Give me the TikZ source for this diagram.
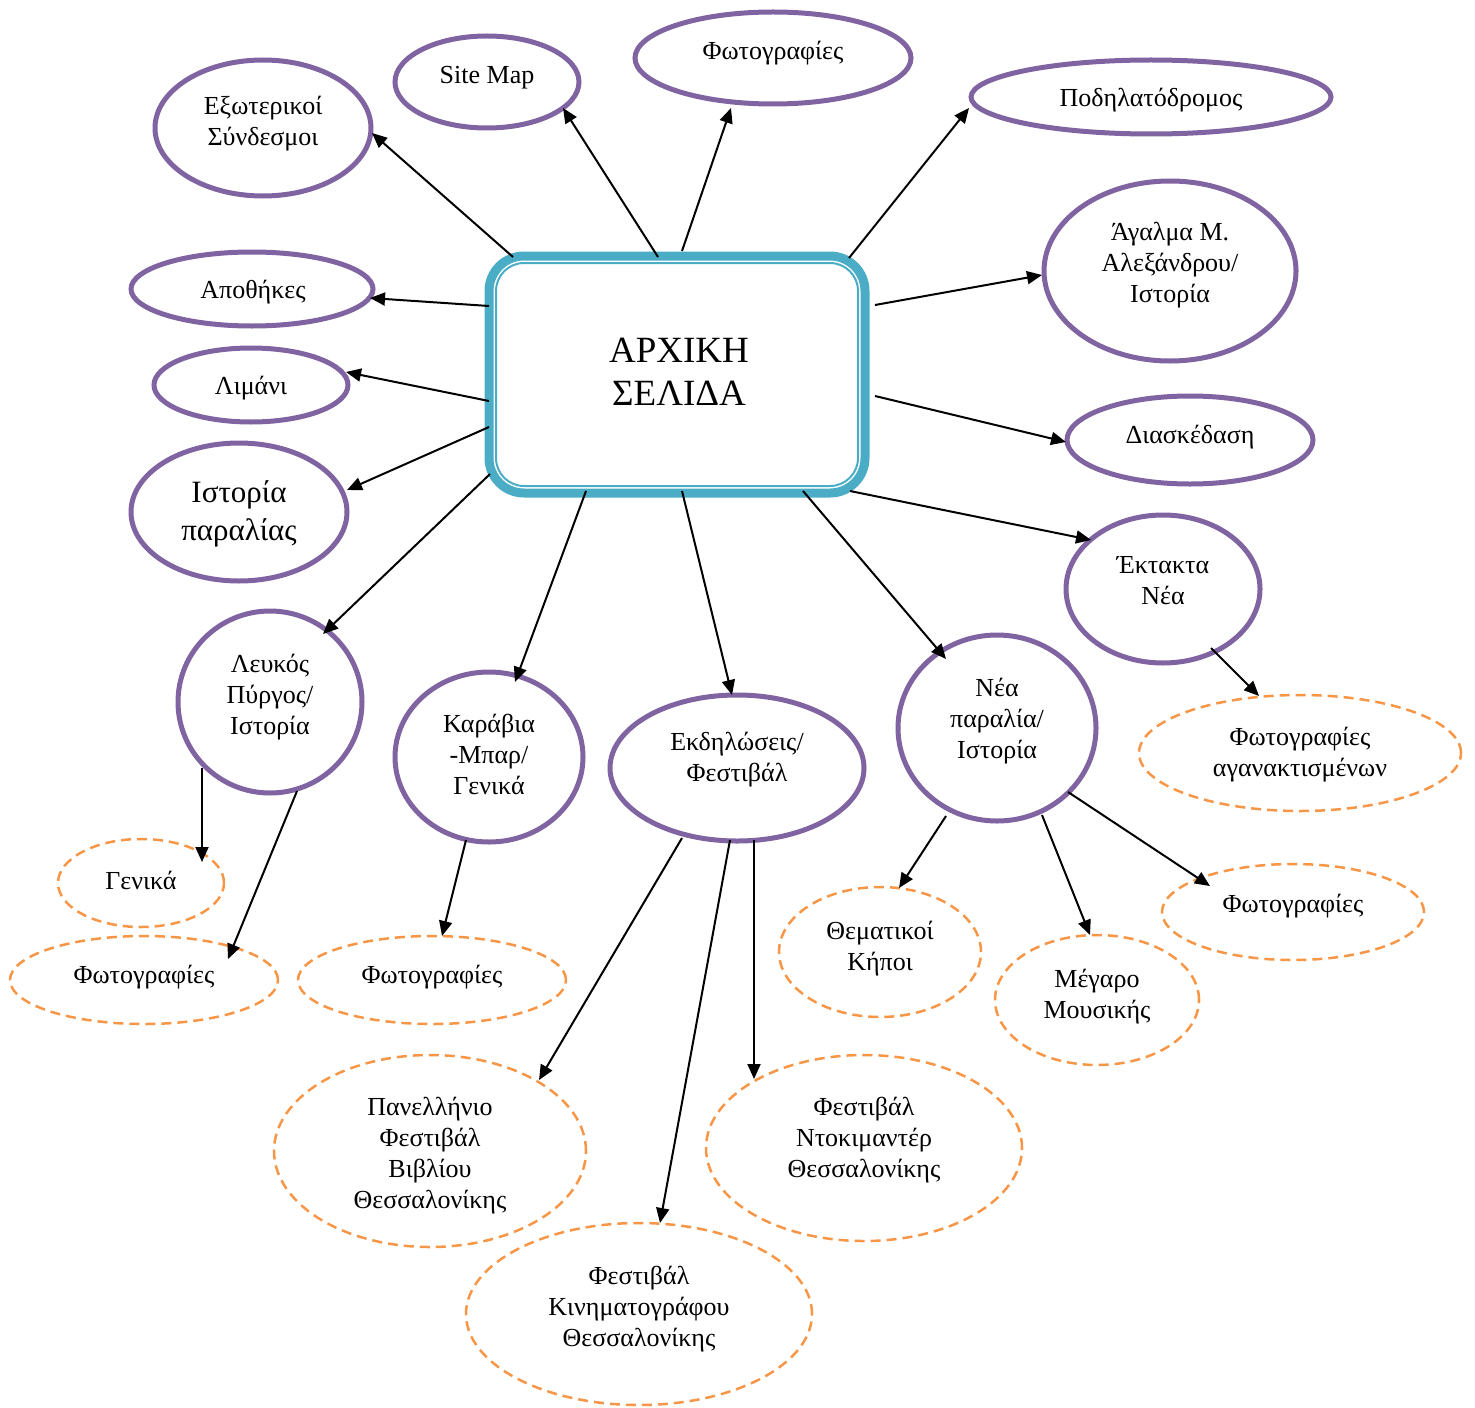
\documentclass[tikz,border=0pt]{standalone}
\usepackage{fontspec}
\setmainfont{Liberation Serif}
\usetikzlibrary{shapes.geometric,calc,arrows.meta}
\definecolor{purp}{HTML}{8064A2}
\definecolor{tealb}{HTML}{4BACC6}
\definecolor{orng}{HTML}{F79646}
\begin{document}
\begin{tikzpicture}[x=0.5pt,y=-0.5pt,
 mainell/.style 2 args={ellipse,draw=purp,line width=2.5pt,inner sep=0pt,outer sep=0pt,minimum width=#1pt,minimum height=#2pt},
 subell/.style 2 args={ellipse,draw=orng,line width=1.25pt,dash pattern=on 5pt off 3pt,inner sep=0pt,outer sep=0pt,minimum width=#1pt,minimum height=#2pt},
 txt/.style={align=center,font=\fontsize{13}{15.5}\selectfont,inner sep=0pt,yshift=-1.4pt},
 arr/.style={-{Triangle[length=7.5pt,width=6.5pt]},line width=1pt,black}]
\useasboundingbox (0,0) rectangle (1475,1407);
% central box
\node[draw=tealb,line width=4.5pt,rounded corners=17.5pt,minimum width=188pt,minimum height=118.5pt,inner sep=0pt,outer sep=0pt] (box) at (677,374.5) {};
\node[draw=tealb,line width=1pt,rounded corners=14pt,minimum width=181pt,minimum height=111.5pt,inner sep=0pt,outer sep=0pt] (boxin) at (677,374.5) {};
\node[align=center,inner sep=0pt,font=\fontsize{18.5}{21.5}\selectfont,yshift=-1pt] (title) at (679,370) {ΑΡΧΙΚΗ\\ΣΕΛΙΔΑ};
% main ellipses
\node[mainell={108}{68}] (ext) at (263,128) {};
\node[txt] (extt) at (263,121) {Εξωτερικοί\\Σύνδεσμοι};
\node[mainell={92}{46}] (site) at (487,82) {};
\node[txt] (sitet) at (487,75) {Site Map};
\node[mainell={138}{46}] (pha) at (773,58) {};
\node[txt] (phat) at (773,50) {Φωτογραφίες};
\node[mainell={180}{37}] (bike) at (1151,97) {};
\node[txt] (biket) at (1151,97) {Ποδηλατόδρομος};
\node[mainell={126}{90}] (stat) at (1170,271) {};
\node[txt] (statt) at (1170,262) {Άγαλμα Μ.\\Αλεξάνδρου/\\Ιστορία};
\node[mainell={121}{37}] (stor) at (252,289) {};
\node[txt] (stort) at (253,289) {Αποθήκες};
\node[mainell={97}{37}] (port) at (251,385) {};
\node[txt] (portt) at (251,385) {Λιμάνι};
\node[mainell={108}{69}] (hist) at (239,512) {};
\node[align=center,inner sep=0pt,font=\fontsize{15.5}{19}\selectfont,yshift=-1.3pt] (histt) at (239,511) {Ιστορία\\παραλίας};
\node[mainell={123}{44}] (ent) at (1190,440) {};
\node[txt] (entt) at (1190,434) {Διασκέδαση};
\node[mainell={97}{74}] (news) at (1163,589) {};
\node[txt] (newst) at (1163,578) {Έκτακτα\\Νέα};
\node[mainell={92}{91}] (tower) at (270,702) {};
\node[txt] (towert) at (270,694) {Λευκός\\Πύργος/\\Ιστορία};
\node[mainell={94}{85}] (boats) at (489,757) {};
\node[txt] (boatst) at (489,752) {Καράβια\\-Μπαρ/\\Γενικά};
\node[mainell={127}{73}] (events) at (737,768) {};
\node[txt] (eventst) at (737,757) {Εκδηλώσεις/\\Φεστιβάλ};
\node[mainell={99}{93}] (newb) at (997,728) {};
\node[txt] (newbt) at (997,718) {Νέα\\παραλία/\\Ιστορία};
% sub ellipses
\node[subell={161}{58}] (phang) at (1300,753) {};
\node[txt] (phangt) at (1300,752) {Φωτογραφίες\\αγανακτισμένων};
\node[subell={83}{44}] (gen) at (141,883) {};
\node[txt] (gent) at (141,878) {Γενικά};
\node[subell={134}{44}] (phb) at (144,980) {};
\node[txt] (phbt) at (144,974) {Φωτογραφίες};
\node[subell={134}{44}] (phc) at (432,980) {};
\node[txt] (phct) at (432,974) {Φωτογραφίες};
\node[subell={101}{65}] (gard) at (880,952) {};
\node[txt] (gardt) at (880,946) {Θεματικοί\\Κήποι};
\node[subell={102}{65}] (music) at (1097,1000) {};
\node[txt] (musict) at (1097,994) {Μέγαρο\\Μουσικής};
\node[subell={131}{48}] (phd) at (1293,912) {};
\node[txt] (phdt) at (1293,903) {Φωτογραφίες};
\node[subell={156}{96}] (book) at (430,1151) {};
\node[txt] (bookt) at (430,1153) {Πανελλήνιο\\Φεστιβάλ\\Βιβλίου\\Θεσσαλονίκης};
\node[subell={158}{93}] (doc) at (864,1148) {};
\node[txt] (doct) at (864,1137) {Φεστιβάλ\\Ντοκιμαντέρ\\Θεσσαλονίκης};
\node[subell={173}{91}] (cine) at (639,1314) {};
\node[txt] (cinet) at (639,1306) {Φεστιβάλ\\Κινηματογράφου\\Θεσσαλονίκης};
% arrows from the central box
\draw[arr] ($(box)+(-164,-117.5)$) -- ($(ext)+(109,5)$);
\draw[arr] ($(box)+(-19,-117.5)$) -- ($(site)+(76,26)$);
\draw[arr] ($(box)+(5,-123.5)$) -- ($(pha)+(-42,50)$);
\draw[arr] ($(box)+(172,-116.5)$) -- ($(bike)+(-182,11)$);
\draw[arr] ($(box)+(198,-69.5)$) -- ($(stat)+(-128,4)$);
\draw[arr] ($(box)+(-188,-68.5)$) -- ($(stor)+(118,9)$);
\draw[arr] ($(box)+(-188,26.5)$) -- ($(port)+(95,-13)$);
\draw[arr] ($(box)+(-188,52.5)$) -- ($(hist)+(108,-22)$);
\draw[arr] ($(box)+(198,21.5)$) -- ($(ent)+(-124,2)$);
\draw[arr] ($(box)+(173,116.5)$) -- ($(news)+(-72,-49)$);
\draw[arr] ($(box)+(-187,99.5)$) -- ($(tower)+(53,-68)$);
\draw[arr] ($(box)+(-91,116.5)$) -- ($(boats)+(26,-75)$);
\draw[arr] ($(box)+(5,116.5)$) -- ($(events)+(-5,-73)$);
\draw[arr] ($(box)+(126,116.5)$) -- ($(newb)+(-51,-69)$);
% sub arrows
\draw[arr] ($(news)+(48,59)$) -- ($(phang)+(-41,-57)$);
\draw[arr] ($(tower)+(-68,66)$) -- ($(gen)+(61,-21)$);
\draw[arr] ($(tower)+(27,89)$) -- ($(phb)+(84,-21)$);
\draw[arr] ($(boats)+(-23,83)$) -- ($(phc)+(10,-44)$);
\draw[arr] ($(events)+(-55,70)$) -- ($(book)+(109,-71)$);
\draw[arr] ($(events)+(-7,72)$) -- ($(cine)+(21,-91)$);
\draw[arr] ($(events)+(17,72)$) -- ($(doc)+(-110,-69)$);
\draw[arr] ($(newb)+(-51,88)$) -- ($(gard)+(19,-64)$);
\draw[arr] ($(newb)+(45,87)$) -- ($(music)+(-7,-65)$);
\draw[arr] ($(newb)+(71,64)$) -- ($(phd)+(-83,-26)$);
\end{tikzpicture}
\end{document}
